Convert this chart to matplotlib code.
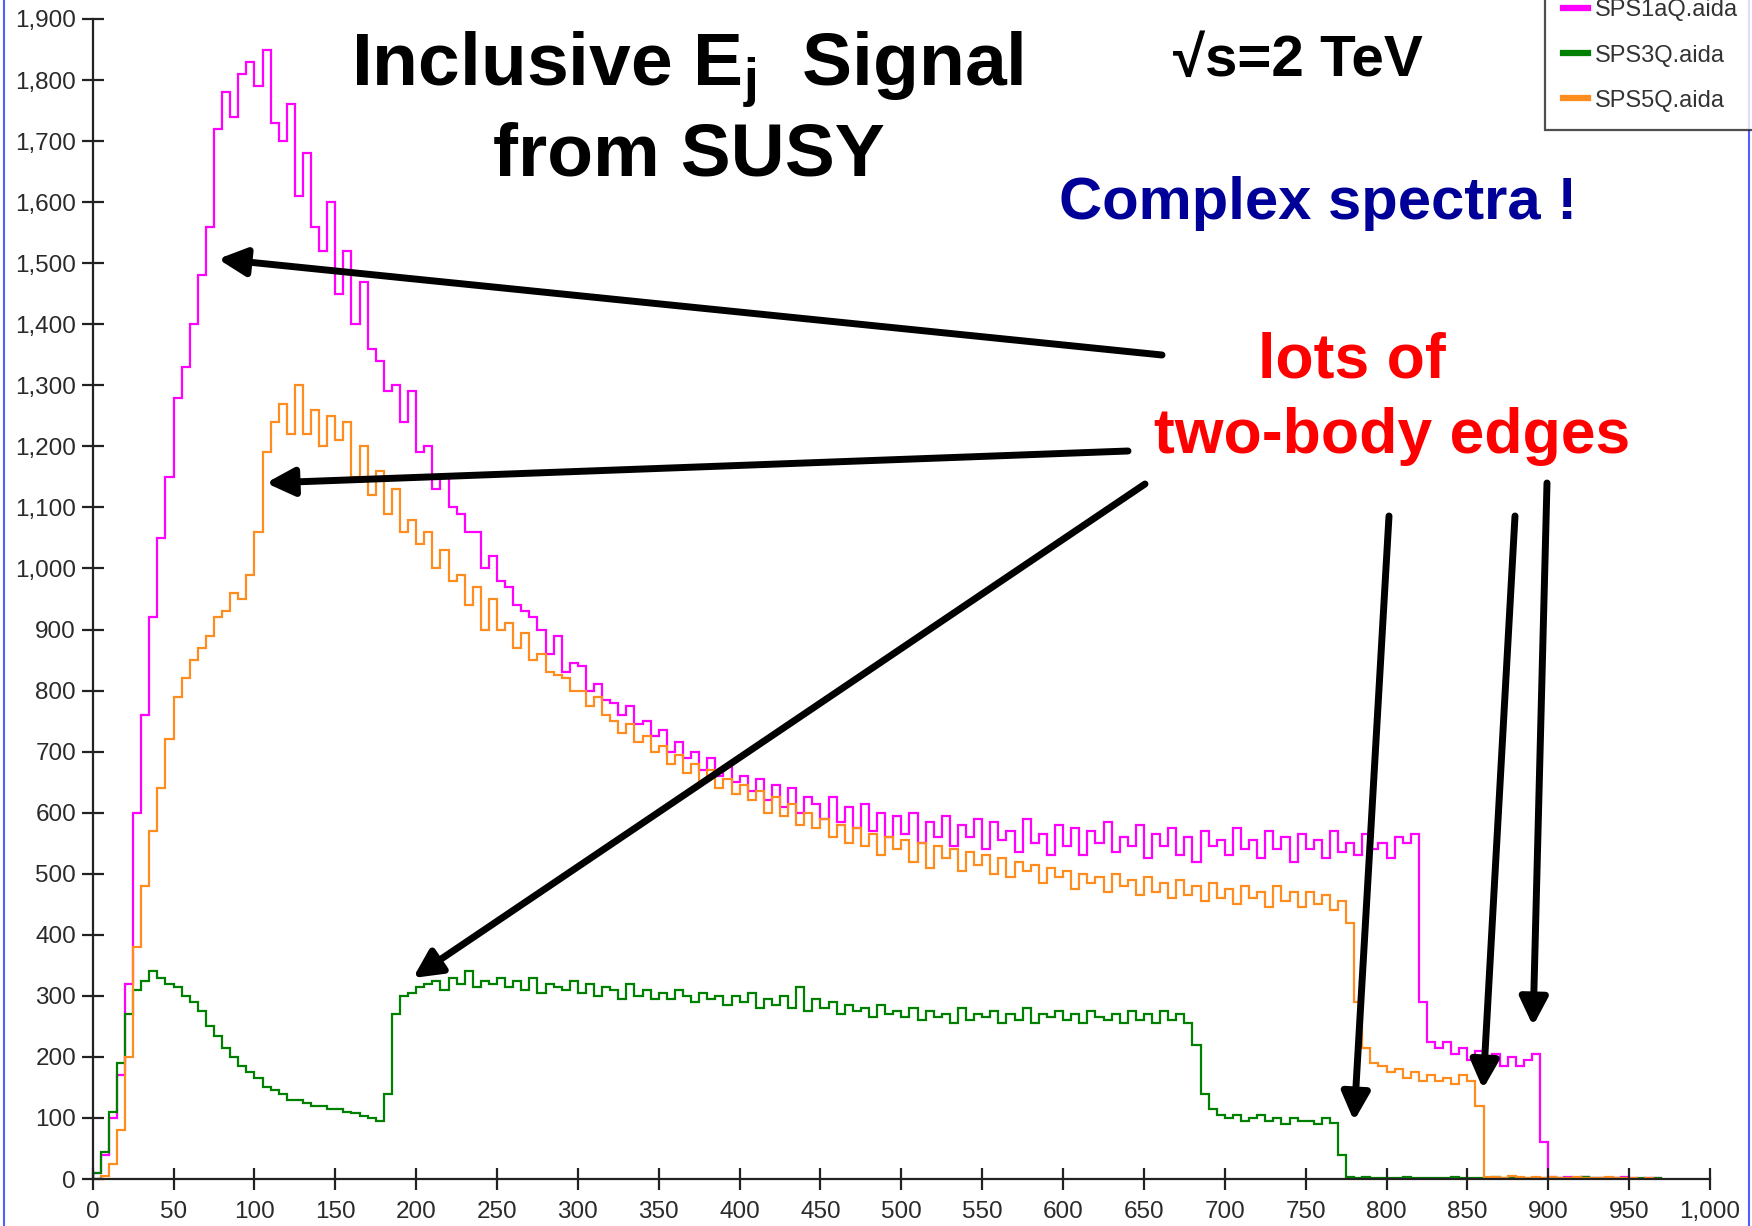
import numpy as np
import matplotlib
matplotlib.use("Agg")
import matplotlib.pyplot as plt
from matplotlib.lines import Line2D
from matplotlib.patches import FancyArrowPatch
from matplotlib.ticker import FuncFormatter

plt.rcParams['font.family'] = ['Liberation Sans', 'DejaVu Sans']
plt.rcParams['mathtext.fontset'] = 'custom'
plt.rcParams['mathtext.rm'] = 'Liberation Sans'
plt.rcParams['mathtext.bf'] = 'Liberation Sans:bold'
plt.rcParams['mathtext.it'] = 'Liberation Sans:bold'

# ---- data (histogram contents, 5-unit bins from 0 to 970) ----
bin_width = 5
n_bins = 194

sps1aq = [
    10, 40, 100, 170, 320, 600, 760, 920, 1050, 1150,
    1280, 1330, 1400, 1480, 1560, 1720, 1780, 1740, 1810, 1830,
    1790, 1850, 1730, 1700, 1760, 1610, 1680, 1560, 1520, 1600,
    1450, 1520, 1400, 1470, 1360, 1340, 1290, 1300, 1240, 1290,
    1190, 1200, 1130, 1150, 1100, 1090, 1060, 1060, 1000, 1020,
    980, 970, 940, 930, 920, 900, 860, 890, 830, 845,
    840, 800, 810, 785, 780, 760, 775, 745, 750, 725,
    735, 700, 715, 690, 700, 670, 690, 660, 675, 650,
    660, 635, 655, 620, 645, 610, 640, 600, 625, 615,
    590, 625, 585, 610, 575, 615, 570, 600, 560, 595,
    565, 600, 550, 585, 560, 595, 545, 580, 560, 590,
    540, 585, 555, 570, 535, 590, 550, 565, 530, 580,
    545, 575, 530, 570, 550, 585, 535, 560, 545, 580,
    525, 565, 545, 575, 530, 560, 520, 570, 545, 555,
    530, 575, 540, 555, 525, 570, 540, 560, 520, 565,
    540, 555, 525, 570, 535, 550, 530, 565, 540, 550,
    525, 560, 550, 565, 290, 225, 215, 225, 205, 215,
    195, 210, 190, 205, 185, 200, 185, 195, 205, 60,
    3, 2, 4, 1, 3, 2, 1, 2, 1, 3, 2, 0, 1, 2,
]

sps3q = [
    10, 45, 110, 190, 270, 310, 325, 340, 330, 320,
    315, 300, 290, 275, 250, 235, 215, 200, 185, 175,
    165, 150, 145, 140, 130, 130, 125, 120, 120, 115,
    115, 110, 108, 104, 100, 95, 140, 270, 300, 305,
    315, 320, 325, 310, 330, 320, 340, 315, 325, 320,
    330, 315, 325, 310, 330, 305, 320, 315, 310, 325,
    305, 320, 300, 315, 310, 295, 320, 300, 310, 295,
    305, 295, 310, 300, 290, 305, 295, 300, 285, 300,
    290, 305, 280, 295, 285, 300, 280, 315, 275, 295,
    280, 290, 270, 285, 275, 280, 265, 285, 270, 275,
    265, 280, 260, 275, 265, 270, 255, 280, 260, 270,
    265, 275, 255, 270, 260, 280, 255, 270, 265, 275,
    260, 270, 255, 275, 265, 260, 270, 255, 275, 260,
    270, 255, 275, 260, 270, 255, 220, 140, 115, 105,
    100, 105, 95, 100, 105, 95, 100, 90, 100, 95,
    95, 90, 100, 92, 40, 3, 2, 4, 1, 2,
    2, 1, 3, 1, 2, 1, 2, 1, 3, 2,
    1, 2, 1, 3, 1, 2, 1, 2, 1, 2,
    2, 1, 2, 1, 3, 1, 2, 1, 2, 1, 0, 1, 0, 1,
]

sps5q = [
    0, 5, 25, 80, 200, 380, 480, 570, 640, 720,
    790, 820, 850, 870, 890, 920, 930, 960, 950, 990,
    1060, 1190, 1240, 1270, 1220, 1300, 1220, 1260, 1200, 1250,
    1210, 1240, 1150, 1200, 1120, 1160, 1090, 1130, 1060, 1080,
    1040, 1060, 1000, 1030, 980, 990, 940, 970, 900, 950,
    900, 910, 870, 895, 850, 860, 830, 825, 820, 800,
    800, 775, 790, 760, 750, 730, 745, 715, 725, 700,
    710, 680, 695, 665, 680, 650, 670, 640, 655, 630,
    645, 620, 635, 600, 625, 595, 615, 580, 600, 575,
    590, 560, 580, 550, 575, 545, 565, 530, 560, 540,
    555, 520, 550, 510, 545, 525, 540, 505, 535, 515,
    530, 500, 525, 495, 520, 505, 515, 485, 510, 495,
    505, 475, 500, 485, 495, 470, 500, 480, 490, 465,
    495, 470, 485, 460, 490, 465, 480, 455, 485, 460,
    475, 450, 480, 460, 470, 445, 480, 455, 470, 445,
    470, 450, 465, 440, 455, 420, 290, 215, 190, 185,
    175, 180, 165, 175, 160, 170, 160, 165, 155, 170,
    160, 120, 4, 3, 2, 5, 3, 2, 4, 2,
    3, 2, 1, 3, 2, 1, 2, 3, 1, 2, 1, 0, 1, 0,
]

series_names = ["SPS1aQ.aida", "SPS3Q.aida", "SPS5Q.aida"]
series_colors = ["#FF00FF", "#008000", "#FF8C1E"]

x_ticks = list(range(0, 1001, 50))
y_ticks = list(range(0, 1901, 100))

# ---- figure ----
W, H = 1752, 1226
fig = plt.figure(figsize=(W / 100, H / 100), dpi=100)
fig.patch.set_facecolor("white")

def fx(px):
    return px / W

def fy(py):
    return 1 - py / H

ax = fig.add_axes([fx(92.7), fy(1179), (1710 - 92.7) / W, (1179 - 19) / H])
edges = np.arange(n_bins + 1) * bin_width

handles = []
for vals, name, col in zip([sps1aq, sps3q, sps5q], series_names, series_colors):
    ax.stairs(vals, edges, color=col, lw=1.6)
    handles.append(Line2D([], [], color=col, lw=4.5))

ax.set_xlim(0, 1000)
ax.set_ylim(0, 1900)
ax.set_xticks(x_ticks)
ax.set_yticks(y_ticks)
fmt = FuncFormatter(lambda v, p: f"{int(v):,}")
ax.xaxis.set_major_formatter(fmt)
ax.yaxis.set_major_formatter(fmt)
for s in ["top", "right"]:
    ax.spines[s].set_visible(False)
for s in ["left", "bottom"]:
    ax.spines[s].set_linewidth(1.6)
    ax.spines[s].set_color("#222222")
ax.tick_params(axis="both", direction="inout", length=16, width=1.6,
               color="#222222", labelsize=17.5, labelcolor="#2a2a2a")
ax.tick_params(axis="x", pad=8)
ax.tick_params(axis="y", pad=4)
ax.set_facecolor("none")

# legend
leg = fig.legend(handles, series_names, loc="upper left",
                 bbox_to_anchor=(fx(1545), fy(-19)), bbox_transform=fig.transFigure,
                 prop={'size': 17}, frameon=True, fancybox=False, borderpad=0.78,
                 labelspacing=0.98, handlelength=1.05, handletextpad=0.3,
                 borderaxespad=0)
leg.get_frame().set_edgecolor("#222222")
leg.get_frame().set_linewidth(1.6)
for t in leg.get_texts():
    t.set_color("#333333")

# slide frame lines
fig.add_artist(Line2D([fx(4), fx(4)], [0, 1], color="#5060FF", lw=1.5))
fig.add_artist(Line2D([fx(1749), fx(1749)], [0, 1], color="#5060FF", lw=1.5))

# titles / annotations
fig.text(fx(687), fy(86), r"Inclusive E$_{\mathbf{j}}$  Signal", fontsize=54,
         fontweight="bold", ha="center", va="baseline", color="black")
fig.text(fx(689), fy(176), "from SUSY", fontsize=54, fontweight="bold",
         ha="center", va="baseline", color="black")
fig.text(fx(1298), fy(76), "\u221As=2 TeV", fontsize=42, fontweight="bold",
         ha="center", va="baseline", color="black")
fig.text(fx(1318), fy(219), "Complex spectra !", fontsize=43, fontweight="bold",
         ha="center", va="baseline", color="#000099")
fig.text(fx(1352), fy(377), "lots of", fontsize=45, fontweight="bold",
         ha="center", va="baseline", color="#FF0000")
fig.text(fx(1392), fy(453), "two-body edges", fontsize=45, fontweight="bold",
         ha="center", va="baseline", color="#FF0000")

arrows = [
    ((1162, 355), (218, 259)),
    ((1128, 451), (266, 483)),
    ((1145, 484), (413, 978)),
    ((1389, 516), (1354, 1121)),
    ((1515, 516), (1483, 1089)),
    ((1547, 483), (1533, 1026)),
]
for (tx, ty), (hx, hy) in arrows:
    fig.add_artist(FancyArrowPatch(
        (fx(tx), fy(ty)), (fx(hx), fy(hy)), transform=fig.transFigure,
        arrowstyle="-|>", mutation_scale=42, lw=5, color="black",
        shrinkA=0, shrinkB=0))

fig.savefig("out.png", dpi=100, facecolor="white")
